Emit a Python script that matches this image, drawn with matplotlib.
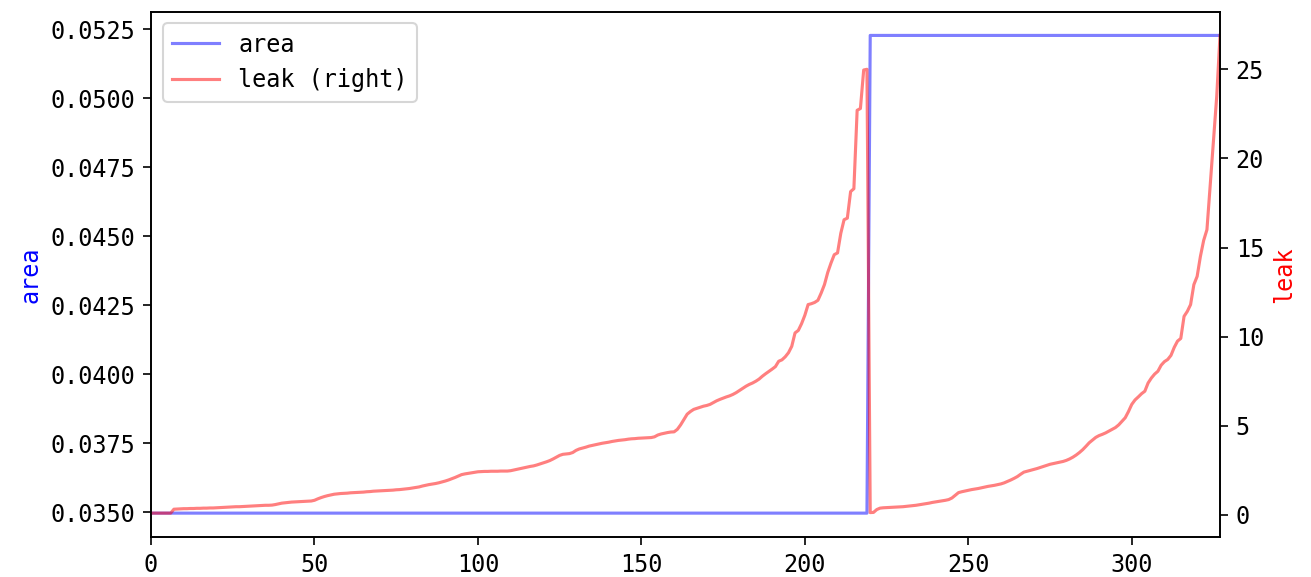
import numpy as np
import matplotlib
matplotlib.use("Agg")
import matplotlib.pyplot as plt

plt.rcParams['font.family'] = ['DejaVu Sans Mono']
plt.rcParams['font.size'] = 11.3
plt.rcParams['xtick.major.size'] = 4
plt.rcParams['ytick.major.size'] = 4

# area per design point, sorted; two distinct area levels
area_low = 0.03496
area_high = 0.05228
n_low = 220
n_high = 108

# leak values (sorted inside each area group)
leak_low = [
    0.10, 0.10, 0.10, 0.10, 0.10, 0.10, 0.10, 0.32, 0.33, 0.34,
    0.35, 0.35, 0.36, 0.36, 0.37, 0.37, 0.38, 0.38, 0.39, 0.39,
    0.40, 0.41, 0.42, 0.43, 0.44, 0.45, 0.46, 0.46, 0.47, 0.48,
    0.49, 0.50, 0.51, 0.52, 0.53, 0.54, 0.54, 0.55, 0.58, 0.62,
    0.66, 0.68, 0.70, 0.72, 0.73, 0.74, 0.75, 0.76, 0.77, 0.78,
    0.82, 0.90, 0.97, 1.03, 1.08, 1.12, 1.16, 1.18, 1.20, 1.21,
    1.22, 1.24, 1.25, 1.26, 1.27, 1.28, 1.30, 1.31, 1.33, 1.34,
    1.35, 1.36, 1.37, 1.38, 1.39, 1.41, 1.42, 1.44, 1.46, 1.48,
    1.51, 1.54, 1.57, 1.62, 1.66, 1.70, 1.73, 1.76, 1.80, 1.85,
    1.90, 1.96, 2.03, 2.10, 2.18, 2.26, 2.30, 2.33, 2.36, 2.39,
    2.42, 2.43, 2.44, 2.44, 2.45, 2.45, 2.45, 2.46, 2.46, 2.46,
    2.48, 2.52, 2.56, 2.60, 2.64, 2.68, 2.72, 2.75, 2.80, 2.86,
    2.92, 2.98, 3.05, 3.14, 3.24, 3.34, 3.40, 3.42, 3.44, 3.50,
    3.62, 3.70, 3.75, 3.80, 3.86, 3.90, 3.94, 3.98, 4.02, 4.05,
    4.08, 4.12, 4.15, 4.18, 4.20, 4.22, 4.25, 4.27, 4.28, 4.30,
    4.31, 4.32, 4.33, 4.34, 4.38, 4.48, 4.54, 4.58, 4.62, 4.65,
    4.66, 4.80, 5.05, 5.35, 5.65, 5.80, 5.92, 5.98, 6.04, 6.10,
    6.14, 6.20, 6.30, 6.40, 6.48, 6.55, 6.62, 6.68, 6.76, 6.86,
    6.98, 7.10, 7.22, 7.32, 7.40, 7.50, 7.62, 7.78, 7.92, 8.05,
    8.18, 8.32, 8.62, 8.70, 8.87, 9.10, 9.46, 10.21, 10.35, 10.73,
    11.20, 11.80, 11.85, 11.92, 12.04, 12.45, 12.92, 13.60, 14.13, 14.60,
    14.70, 15.80, 16.56, 16.65, 18.14, 18.30, 22.70, 22.80, 24.96, 25.00,
]

leak_high = [
    0.13, 0.14, 0.30, 0.38, 0.40, 0.41, 0.42, 0.43, 0.44, 0.45,
    0.46, 0.48, 0.50, 0.52, 0.54, 0.57, 0.60, 0.63, 0.66, 0.70,
    0.73, 0.76, 0.79, 0.82, 0.86, 0.95, 1.10, 1.25, 1.30, 1.34,
    1.38, 1.42, 1.45, 1.48, 1.52, 1.56, 1.60, 1.63, 1.66, 1.70,
    1.74, 1.80, 1.88, 1.96, 2.05, 2.15, 2.28, 2.40, 2.45, 2.50,
    2.55, 2.60, 2.66, 2.72, 2.78, 2.84, 2.88, 2.92, 2.96, 3.00,
    3.06, 3.14, 3.24, 3.36, 3.50, 3.66, 3.85, 4.05, 4.20, 4.35,
    4.45, 4.52, 4.60, 4.70, 4.80, 4.90, 5.05, 5.25, 5.45, 5.80,
    6.20, 6.45, 6.62, 6.80, 6.94, 7.40, 7.68, 7.90, 8.06, 8.40,
    8.60, 8.72, 8.95, 9.40, 9.75, 9.90, 11.14, 11.42, 11.80, 12.92,
    13.38, 14.50, 15.40, 16.00, 18.50, 21.00, 23.50, 26.90,
]

area = [area_low] * n_low + [area_high] * n_high
leak = leak_low + leak_high
idx = np.arange(len(area))

fig = plt.figure(figsize=(1311 / 150, 577 / 150), dpi=150)
ax = fig.add_axes([0.1152, 0.0693, 0.8154, 0.9107])
ax2 = ax.twinx()

l1, = ax.plot(idx, area, color='blue', alpha=0.5)
l2, = ax2.plot(idx, leak, color='red', alpha=0.5)

ax.set_xlim(0, len(area) - 1)
ax.set_ylabel('area', color='blue')
ax2.set_ylabel('leak', color='red')

ax.legend([l1, l2], ['area', 'leak (right)'], loc='upper left')

fig.savefig('out.png', dpi=150)
